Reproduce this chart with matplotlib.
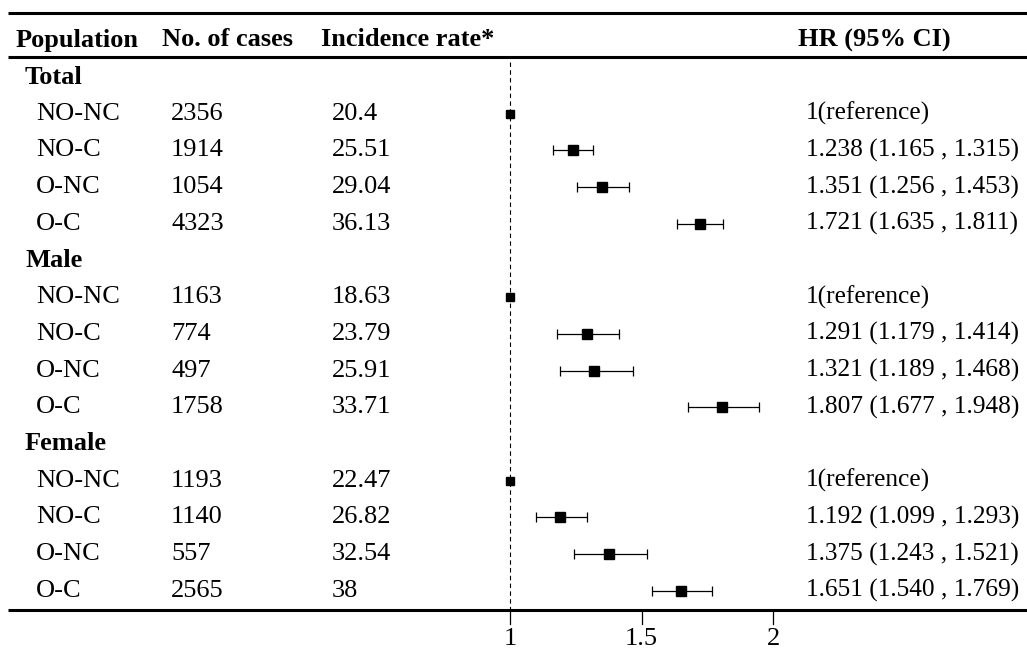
import matplotlib
matplotlib.use("Agg")
import matplotlib.pyplot as plt

plt.rcParams['font.family'] = ['Liberation Serif', 'DejaVu Serif']

groups = ["Total", "Male", "Female"]
subgroups = ["NO-NC", "NO-C", "O-NC", "O-C"]
cases = [[2356, 1914, 1054, 4323],
         [1163, 774, 497, 1758],
         [1193, 1140, 557, 2565]]
incidence = ["20.4", "25.51", "29.04", "36.13",
             "18.63", "23.79", "25.91", "33.71",
             "22.47", "26.82", "32.54", "38"]
hr = [1, 1.238, 1.351, 1.721,
      1, 1.291, 1.321, 1.807,
      1, 1.192, 1.375, 1.651]
lo = [1, 1.165, 1.256, 1.635,
      1, 1.179, 1.189, 1.677,
      1, 1.099, 1.243, 1.540]
hi = [1, 1.315, 1.453, 1.811,
      1, 1.414, 1.468, 1.948,
      1, 1.293, 1.521, 1.769]
xticks = [1, 1.5, 2]
xtick_labels = ["1", "1.5", "2"]
headers = ["Population", "No. of cases", "Incidence rate*", "HR (95% CI)"]

W, H = 1027, 651
fig = plt.figure(figsize=(W / 100, H / 100), dpi=100)
ax = fig.add_axes([0, 0, 1, 1])
ax.axis("off")

row0, step = 77, 36.7   # pixel y of first row, row spacing
def r(px):
    return (px - row0) / step

unit = 263   # pixels per HR unit, HR=1 at x=510
ax.set_xlim(1 - 510 / unit, 1 + (W - 510) / unit)
ax.set_ylim(r(H), r(0))

tr = ax.get_yaxis_transform()
fs = 19

# header
hx = [16 / W, 162 / W, 321 / W, 798 / W]
for x, t in zip(hx, headers):
    ax.text(x, r(40), t, transform=tr, fontsize=fs, fontweight="bold",
            va="center", ha="left")

# rules
x0 = 8 / W
for y in [r(12.5), r(57), r(610)]:
    ax.plot([x0, 1], [y, y], transform=tr, color="black", lw=2.2,
            solid_capstyle="butt")

# reference line
ax.plot([1, 1], [r(62), r(610)], color="black", lw=0.8, ls=(0, (4, 3)))

# rows
i = 0
y = 0
for g, grp in enumerate(groups):
    ax.text(25 / W, y, grp, transform=tr, fontsize=fs, fontweight="bold",
            va="center")
    y += 1
    for s, sub in enumerate(subgroups):
        ax.text(36 / W, y, sub, transform=tr, fontsize=fs, va="center")
        ax.text(171 / W, y, str(cases[g][s]), transform=tr, fontsize=fs, va="center")
        ax.text(332 / W, y, incidence[i], transform=tr, fontsize=fs, va="center")
        if hr[i] == 1:
            txt = "1(reference)"
            ax.plot(hr[i], y, marker="s", ms=6.3, color="black")
        else:
            txt = f"{hr[i]:.3f} ({lo[i]:.3f} , {hi[i]:.3f})"
            ax.errorbar(hr[i], y, xerr=[[hr[i] - lo[i]], [hi[i] - hr[i]]],
                        fmt="s", ms=7, color="black", ecolor="black",
                        elinewidth=0.9, capsize=3.3, capthick=0.9)
        ax.text(806 / W, y, txt, transform=tr, fontsize=18.3, va="center")
        i += 1
        y += 1

# x axis ticks
for t, lab in zip(xticks, xtick_labels):
    ax.plot([t, t], [r(610), r(624)], color="black", lw=0.9)
    ax.text(t, r(639), lab, fontsize=fs, ha="center", va="center")

fig.savefig("out.png", dpi=100)
